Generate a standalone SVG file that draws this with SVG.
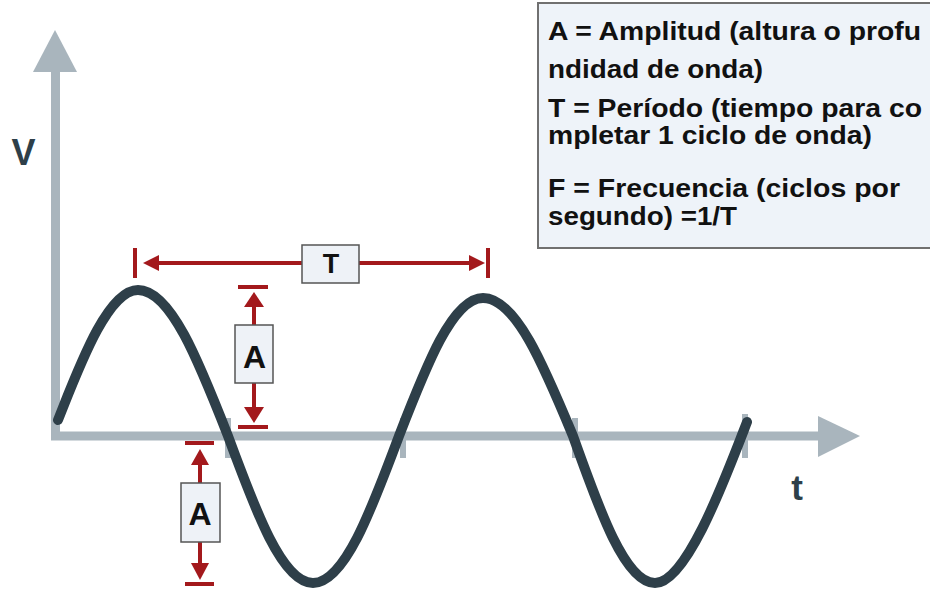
<svg xmlns="http://www.w3.org/2000/svg" width="930" height="591" viewBox="0 0 930 591">
<style>
.axis{stroke:#a9b5bd;stroke-width:9;fill:none}
.tick{stroke:#a9b5bd;stroke-width:6}
.axhead{fill:#a9b5bd}
.wave{stroke:#2e3f49;stroke-width:10;fill:none;stroke-linecap:round}
.red{stroke:#a3191c;stroke-width:4;fill:none}
.redhead{fill:#a3191c}
.lbox{fill:#eef2f7;stroke:#555;stroke-width:1.5}
.lbl{font-family:"Liberation Sans",Arial,sans-serif;font-weight:bold;fill:#111}
.info{font-family:"Liberation Sans",Arial,sans-serif;font-weight:bold;font-size:25px;fill:#111}
.axlbl{font-family:"Liberation Sans",Arial,sans-serif;font-weight:bold;fill:#2e3f49}
</style>
<rect width="930" height="591" fill="#fff"/>
<g id="axes">
  <line class="axis" x1="55.5" y1="70" x2="55.5" y2="440"/>
  <polygon class="axhead" points="33,72 55,30 77,72"/>
  <line class="axis" x1="51" y1="436" x2="820" y2="436"/>
  <polygon class="axhead" points="818,416 860,436 818,457"/>
  <line class="tick" x1="228" y1="418" x2="228" y2="458"/>
  <line class="tick" x1="403" y1="418" x2="403" y2="458"/>
  <line class="tick" x1="575" y1="418" x2="575" y2="458"/>
  <line class="tick" x1="745" y1="414" x2="745" y2="458"/>
  <text class="axlbl" x="23.5" y="165" font-size="36" text-anchor="middle">V</text>
  <text class="axlbl" x="797" y="500" font-size="35" text-anchor="middle">t</text>
</g>
<g id="wave">
  <path class="wave" d="M58,420 C78,370 107,290 138,290 C170.6,290 198.7,361.2 228,436 C255.7,511.3 282.2,583 313,583 C344.1,583 371,511.3 399,436 C426.4,365.3 452.6,298 483,298 C515.6,298 543.7,365.3 573,436 C599.7,511.3 625.3,583 655,583 C686.5,583 725,479 747,422"/>
</g>
<g id="period-marker">
  <line class="red" x1="135" y1="248" x2="135" y2="278"/>
  <line class="red" x1="488" y1="248" x2="488" y2="278"/>
  <line class="red" x1="155" y1="263" x2="302" y2="263"/>
  <line class="red" x1="359" y1="263" x2="475" y2="263"/>
  <polygon class="redhead" points="143,263 159,255 159,271"/>
  <polygon class="redhead" points="485,263 469,255 469,271"/>
  <rect class="lbox" x="302" y="245" width="57" height="38"/>
  <text class="lbl" x="331" y="273" font-size="27" text-anchor="middle">T</text>
</g>
<g id="amplitude-upper">
  <line class="red" x1="238" y1="287" x2="268" y2="287"/>
  <line class="red" x1="238" y1="427" x2="268" y2="427"/>
  <line class="red" x1="254" y1="304" x2="254" y2="325"/>
  <line class="red" x1="254" y1="383" x2="254" y2="410"/>
  <polygon class="redhead" points="254,292 244,307 264,307"/>
  <polygon class="redhead" points="254,423 244,407 264,407"/>
  <rect class="lbox" x="235" y="325" width="38" height="58"/>
  <text class="lbl" x="254.5" y="368" font-size="32" text-anchor="middle">A</text>
</g>
<g id="amplitude-lower">
  <line class="red" x1="185" y1="443" x2="214" y2="443"/>
  <line class="red" x1="185" y1="584" x2="214" y2="584"/>
  <line class="red" x1="200" y1="462" x2="200" y2="483"/>
  <line class="red" x1="200" y1="542" x2="200" y2="566"/>
  <polygon class="redhead" points="200,449 191,465 209,465"/>
  <polygon class="redhead" points="200,580 191,563 209,563"/>
  <rect class="lbox" x="181" y="483" width="39" height="59"/>
  <text class="lbl" x="200" y="525" font-size="32" text-anchor="middle">A</text>
</g>
<g id="info-box">
  <rect x="538" y="3" width="400" height="245" fill="#eef3f9" stroke="#707070" stroke-width="2"/>
  <text class="info" x="548" y="40" textLength="373" lengthAdjust="spacingAndGlyphs">A = Amplitud (altura o profu</text>
  <text class="info" x="548" y="78" textLength="215" lengthAdjust="spacingAndGlyphs">ndidad de onda)</text>
  <text class="info" x="548" y="117" textLength="374" lengthAdjust="spacingAndGlyphs">T = Período (tiempo para co</text>
  <text class="info" x="548" y="144" textLength="324" lengthAdjust="spacingAndGlyphs">mpletar 1 ciclo de onda)</text>
  <text class="info" x="548" y="197" textLength="352" lengthAdjust="spacingAndGlyphs">F = Frecuencia (ciclos por</text>
  <text class="info" x="548" y="225" textLength="189" lengthAdjust="spacingAndGlyphs">segundo) =1/T</text>
</g>
</svg>
